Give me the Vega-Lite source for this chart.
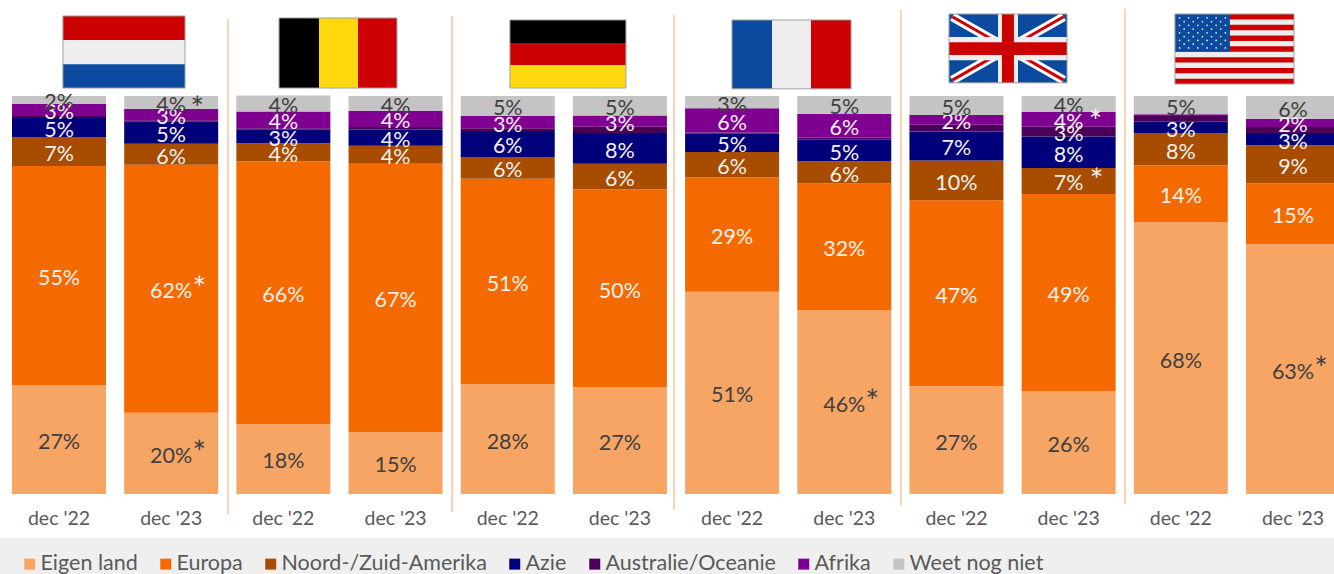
{"$schema":"https://vega.github.io/schema/vega-lite/v6.json","width":1334,"height":574,"padding":0,"autosize":"none","background":"#FFFFFF","config":{"view":{"stroke":null}},
"datasets":{
"band":[{"x0":0,"x1":12,"y0":-20.1,"y1":-11.06}],
"seps":[{"x":2.032,"y0":-5.0,"y1":119.3},{"x":4.029,"y0":-4.5,"y1":120.1},{"x":6.007,"y0":-4.0,"y1":120.4},{"x":8.03,"y0":-2.8,"y1":121.6},{"x":10.027,"y0":-2.5,"y1":121.9}],
"flags":[
{"x0":0.561,"x1":1.649,"y0":114.1,"y1":120.1,"c":"rood"},{"x0":0.561,"x1":1.649,"y0":108,"y1":114.1,"c":"wit"},{"x0":0.561,"x1":1.649,"y0":102,"y1":108,"c":"blauw"},
{"x0":2.487,"x1":2.843,"y0":102,"y1":119.6,"c":"zwart"},{"x0":2.843,"x1":3.191,"y0":102,"y1":119.6,"c":"geel"},{"x0":3.191,"x1":3.538,"y0":102,"y1":119.6,"c":"rood"},
{"x0":4.545,"x1":5.579,"y0":113.3,"y1":119.1,"c":"zwart"},{"x0":4.545,"x1":5.579,"y0":107.8,"y1":113.3,"c":"rood"},{"x0":4.545,"x1":5.579,"y0":102,"y1":107.8,"c":"geel"},
{"x0":6.524,"x1":6.881,"y0":101.8,"y1":119.1,"c":"blauw"},{"x0":6.881,"x1":7.228,"y0":101.8,"y1":119.1,"c":"wit"},{"x0":7.228,"x1":7.585,"y0":101.8,"y1":119.1,"c":"rood"},
{"x0":8.458,"x1":9.51,"y0":103.3,"y1":120.6,"c":"blauw"},
{"x0":10.472,"x1":11.533,"y0":103,"y1":120.6,"c":"wit"},
{"x0":10.472,"x1":11.533,"y0":119.25,"y1":120.6,"c":"rood"},{"x0":10.472,"x1":11.533,"y0":116.54,"y1":117.89,"c":"rood"},{"x0":10.472,"x1":11.533,"y0":113.83,"y1":115.18,"c":"rood"},{"x0":10.472,"x1":11.533,"y0":111.12,"y1":112.47,"c":"rood"},{"x0":10.472,"x1":11.533,"y0":108.41,"y1":109.76,"c":"rood"},{"x0":10.472,"x1":11.533,"y0":105.7,"y1":107.05,"c":"rood"},{"x0":10.472,"x1":11.533,"y0":103,"y1":104.35,"c":"rood"},
{"x0":10.472,"x1":10.962,"y0":111.13,"y1":120.6,"c":"blauw"}],
"diag":[{"x0":8.488,"x1":9.48,"y0":119.9,"y1":104.0},{"x0":8.488,"x1":9.48,"y0":104.0,"y1":119.9}],
"cross":[{"x0":8.895,"x1":9.073,"y0":103.3,"y1":120.6,"c":"wit"},{"x0":8.458,"x1":9.51,"y0":109,"y1":114.8,"c":"wit"},{"x0":8.93,"x1":9.037,"y0":103.3,"y1":120.6,"c":"rood"},{"x0":8.458,"x1":9.51,"y0":110.3,"y1":113.5,"c":"rood"}],
"frames":[{"x0":0.561,"x1":1.649,"y0":102,"y1":120.1},{"x0":2.487,"x1":3.538,"y0":102,"y1":119.6},{"x0":4.545,"x1":5.579,"y0":102,"y1":119.1},{"x0":6.524,"x1":7.585,"y0":101.8,"y1":119.1},{"x0":8.458,"x1":9.51,"y0":103.3,"y1":120.6},{"x0":10.472,"x1":11.533,"y0":103,"y1":120.6}],
"stars":[
{"x":10.513,"y":119.65},{"x":10.594,"y":119.65},{"x":10.676,"y":119.65},{"x":10.758,"y":119.65},{"x":10.839,"y":119.65},{"x":10.921,"y":119.65},
{"x":10.554,"y":118.71},{"x":10.635,"y":118.71},{"x":10.717,"y":118.71},{"x":10.798,"y":118.71},{"x":10.88,"y":118.71},
{"x":10.513,"y":117.76},{"x":10.594,"y":117.76},{"x":10.676,"y":117.76},{"x":10.758,"y":117.76},{"x":10.839,"y":117.76},{"x":10.921,"y":117.76},
{"x":10.554,"y":116.81},{"x":10.635,"y":116.81},{"x":10.717,"y":116.81},{"x":10.798,"y":116.81},{"x":10.88,"y":116.81},
{"x":10.513,"y":115.87},{"x":10.594,"y":115.87},{"x":10.676,"y":115.87},{"x":10.758,"y":115.87},{"x":10.839,"y":115.87},{"x":10.921,"y":115.87},
{"x":10.554,"y":114.92},{"x":10.635,"y":114.92},{"x":10.717,"y":114.92},{"x":10.798,"y":114.92},{"x":10.88,"y":114.92},
{"x":10.513,"y":113.97},{"x":10.594,"y":113.97},{"x":10.676,"y":113.97},{"x":10.758,"y":113.97},{"x":10.839,"y":113.97},{"x":10.921,"y":113.97},
{"x":10.554,"y":113.02},{"x":10.635,"y":113.02},{"x":10.717,"y":113.02},{"x":10.798,"y":113.02},{"x":10.88,"y":113.02},
{"x":10.513,"y":112.08},{"x":10.594,"y":112.08},{"x":10.676,"y":112.08},{"x":10.758,"y":112.08},{"x":10.839,"y":112.08},{"x":10.921,"y":112.08}],
"bars":[
{"bar":"NL 22","period":"dec '22","segment":"Eigen land","order":1,"value":27.4,"label":"27%"},
{"bar":"NL 22","period":"dec '22","segment":"Europa","order":2,"value":55,"label":"55%"},
{"bar":"NL 22","period":"dec '22","segment":"Noord-/Zuid-Amerika","order":3,"value":7.3,"label":"7%"},
{"bar":"NL 22","period":"dec '22","segment":"Azie","order":4,"value":4.8,"label":"5%"},
{"bar":"NL 22","period":"dec '22","segment":"Australie/Oceanie","order":5,"value":0.5},
{"bar":"NL 22","period":"dec '22","segment":"Afrika","order":6,"value":3,"label":"3%"},
{"bar":"NL 22","period":"dec '22","segment":"Weet nog niet","order":7,"value":2,"label":"2%"},
{"bar":"NL 23","period":"dec '23","segment":"Eigen land","order":1,"value":20.4,"label":"20%","star":true},
{"bar":"NL 23","period":"dec '23","segment":"Europa","order":2,"value":62.3,"label":"62%","star":true},
{"bar":"NL 23","period":"dec '23","segment":"Noord-/Zuid-Amerika","order":3,"value":5.3,"label":"6%"},
{"bar":"NL 23","period":"dec '23","segment":"Azie","order":4,"value":5.5,"label":"5%"},
{"bar":"NL 23","period":"dec '23","segment":"Australie/Oceanie","order":5,"value":0.4},
{"bar":"NL 23","period":"dec '23","segment":"Afrika","order":6,"value":2.9,"label":"3%"},
{"bar":"NL 23","period":"dec '23","segment":"Weet nog niet","order":7,"value":3.2,"label":"4%","star":true},
{"bar":"BE 22","period":"dec '22","segment":"Eigen land","order":1,"value":17.6,"label":"18%"},
{"bar":"BE 22","period":"dec '22","segment":"Europa","order":2,"value":66,"label":"66%"},
{"bar":"BE 22","period":"dec '22","segment":"Noord-/Zuid-Amerika","order":3,"value":4.5,"label":"4%"},
{"bar":"BE 22","period":"dec '22","segment":"Azie","order":4,"value":3.4,"label":"3%"},
{"bar":"BE 22","period":"dec '22","segment":"Australie/Oceanie","order":5,"value":0.4},
{"bar":"BE 22","period":"dec '22","segment":"Afrika","order":6,"value":4.2,"label":"4%"},
{"bar":"BE 22","period":"dec '22","segment":"Weet nog niet","order":7,"value":4,"label":"4%"},
{"bar":"BE 23","period":"dec '23","segment":"Eigen land","order":1,"value":15.6,"label":"15%"},
{"bar":"BE 23","period":"dec '23","segment":"Europa","order":2,"value":67.4,"label":"67%"},
{"bar":"BE 23","period":"dec '23","segment":"Noord-/Zuid-Amerika","order":3,"value":4.5,"label":"4%"},
{"bar":"BE 23","period":"dec '23","segment":"Azie","order":4,"value":4.1,"label":"4%"},
{"bar":"BE 23","period":"dec '23","segment":"Australie/Oceanie","order":5,"value":0.6},
{"bar":"BE 23","period":"dec '23","segment":"Afrika","order":6,"value":4.1,"label":"4%"},
{"bar":"BE 23","period":"dec '23","segment":"Weet nog niet","order":7,"value":3.7,"label":"4%"},
{"bar":"DE 22","period":"dec '22","segment":"Eigen land","order":1,"value":27.6,"label":"28%"},
{"bar":"DE 22","period":"dec '22","segment":"Europa","order":2,"value":51.6,"label":"51%"},
{"bar":"DE 22","period":"dec '22","segment":"Noord-/Zuid-Amerika","order":3,"value":5.5,"label":"6%"},
{"bar":"DE 22","period":"dec '22","segment":"Azie","order":4,"value":6.5,"label":"6%"},
{"bar":"DE 22","period":"dec '22","segment":"Australie/Oceanie","order":5,"value":0.7},
{"bar":"DE 22","period":"dec '22","segment":"Afrika","order":6,"value":3.1,"label":"3%"},
{"bar":"DE 22","period":"dec '22","segment":"Weet nog niet","order":7,"value":5,"label":"5%"},
{"bar":"DE 23","period":"dec '23","segment":"Eigen land","order":1,"value":26.9,"label":"27%"},
{"bar":"DE 23","period":"dec '23","segment":"Europa","order":2,"value":49.7,"label":"50%"},
{"bar":"DE 23","period":"dec '23","segment":"Noord-/Zuid-Amerika","order":3,"value":6.4,"label":"6%"},
{"bar":"DE 23","period":"dec '23","segment":"Azie","order":4,"value":7.7,"label":"8%"},
{"bar":"DE 23","period":"dec '23","segment":"Australie/Oceanie","order":5,"value":1.6},
{"bar":"DE 23","period":"dec '23","segment":"Afrika","order":6,"value":2.8,"label":"3%"},
{"bar":"DE 23","period":"dec '23","segment":"Weet nog niet","order":7,"value":4.9,"label":"5%"},
{"bar":"FR 22","period":"dec '22","segment":"Eigen land","order":1,"value":50.8,"label":"51%"},
{"bar":"FR 22","period":"dec '22","segment":"Europa","order":2,"value":28.7,"label":"29%"},
{"bar":"FR 22","period":"dec '22","segment":"Noord-/Zuid-Amerika","order":3,"value":6.4,"label":"6%"},
{"bar":"FR 22","period":"dec '22","segment":"Azie","order":4,"value":4.6,"label":"5%"},
{"bar":"FR 22","period":"dec '22","segment":"Australie/Oceanie","order":5,"value":0.3},
{"bar":"FR 22","period":"dec '22","segment":"Afrika","order":6,"value":6.1,"label":"6%"},
{"bar":"FR 22","period":"dec '22","segment":"Weet nog niet","order":7,"value":3.1,"label":"3%"},
{"bar":"FR 23","period":"dec '23","segment":"Eigen land","order":1,"value":46.2,"label":"46%","star":true},
{"bar":"FR 23","period":"dec '23","segment":"Europa","order":2,"value":31.8,"label":"32%"},
{"bar":"FR 23","period":"dec '23","segment":"Noord-/Zuid-Amerika","order":3,"value":5.6,"label":"6%"},
{"bar":"FR 23","period":"dec '23","segment":"Azie","order":4,"value":5.4,"label":"5%"},
{"bar":"FR 23","period":"dec '23","segment":"Australie/Oceanie","order":5,"value":0.6},
{"bar":"FR 23","period":"dec '23","segment":"Afrika","order":6,"value":5.9,"label":"6%"},
{"bar":"FR 23","period":"dec '23","segment":"Weet nog niet","order":7,"value":4.5,"label":"5%"},
{"bar":"UK 22","period":"dec '22","segment":"Eigen land","order":1,"value":27.1,"label":"27%"},
{"bar":"UK 22","period":"dec '22","segment":"Europa","order":2,"value":46.7,"label":"47%"},
{"bar":"UK 22","period":"dec '22","segment":"Noord-/Zuid-Amerika","order":3,"value":10,"label":"10%"},
{"bar":"UK 22","period":"dec '22","segment":"Azie","order":4,"value":7.3,"label":"7%"},
{"bar":"UK 22","period":"dec '22","segment":"Australie/Oceanie","order":5,"value":1.7},
{"bar":"UK 22","period":"dec '22","segment":"Afrika","order":6,"value":2.4,"label":"2%"},
{"bar":"UK 22","period":"dec '22","segment":"Weet nog niet","order":7,"value":4.8,"label":"5%"},
{"bar":"UK 23","period":"dec '23","segment":"Eigen land","order":1,"value":25.9,"label":"26%"},
{"bar":"UK 23","period":"dec '23","segment":"Europa","order":2,"value":49.5,"label":"49%"},
{"bar":"UK 23","period":"dec '23","segment":"Noord-/Zuid-Amerika","order":3,"value":6.5,"label":"7%","star":true},
{"bar":"UK 23","period":"dec '23","segment":"Azie","order":4,"value":7.9,"label":"8%"},
{"bar":"UK 23","period":"dec '23","segment":"Australie/Oceanie","order":5,"value":2.5,"label":"3%"},
{"bar":"UK 23","period":"dec '23","segment":"Afrika","order":6,"value":3.7,"label":"4%","star":true},
{"bar":"UK 23","period":"dec '23","segment":"Weet nog niet","order":7,"value":4,"label":"4%"},
{"bar":"US 22","period":"dec '22","segment":"Eigen land","order":1,"value":68.3,"label":"68%"},
{"bar":"US 22","period":"dec '22","segment":"Europa","order":2,"value":14.3,"label":"14%"},
{"bar":"US 22","period":"dec '22","segment":"Noord-/Zuid-Amerika","order":3,"value":8.1,"label":"8%"},
{"bar":"US 22","period":"dec '22","segment":"Azie","order":4,"value":2.8,"label":"3%"},
{"bar":"US 22","period":"dec '22","segment":"Australie/Oceanie","order":5,"value":1.5},
{"bar":"US 22","period":"dec '22","segment":"Afrika","order":6,"value":0.4},
{"bar":"US 22","period":"dec '22","segment":"Weet nog niet","order":7,"value":4.6,"label":"5%"},
{"bar":"US 23","period":"dec '23","segment":"Eigen land","order":1,"value":62.8,"label":"63%","star":true},
{"bar":"US 23","period":"dec '23","segment":"Europa","order":2,"value":15.3,"label":"15%"},
{"bar":"US 23","period":"dec '23","segment":"Noord-/Zuid-Amerika","order":3,"value":9.5,"label":"9%"},
{"bar":"US 23","period":"dec '23","segment":"Azie","order":4,"value":3.1,"label":"3%"},
{"bar":"US 23","period":"dec '23","segment":"Australie/Oceanie","order":5,"value":1.5},
{"bar":"US 23","period":"dec '23","segment":"Afrika","order":6,"value":2.1,"label":"2%"},
{"bar":"US 23","period":"dec '23","segment":"Weet nog niet","order":7,"value":5.7,"label":"6%"}
]},
"layer":[
{"encoding":{
"x":{"field":"x0","type":"quantitative","axis":null,"scale":{"domain":[0,12],"range":[0,1346.4],"nice":false,"zero":false}},
"x2":{"field":"x1"},
"y":{"field":"y0","type":"quantitative","axis":null,"scale":{"domain":[-20.1,124.12],"nice":false,"zero":false}},
"y2":{"field":"y1"}},
"layer":[
{"data":{"name":"band"},"mark":{"type":"rect","color":"#EFEFEF"}},
{"data":{"name":"seps"},"mark":{"type":"rule","color":"#F9C9A0","strokeWidth":1.6},"encoding":{"x":{"field":"x","type":"quantitative"},"x2":null}},
{"data":{"name":"flags"},"mark":{"type":"rect"},"encoding":{"color":{"field":"c","type":"nominal","legend":null,"scale":{"domain":["rood","wit","blauw","zwart","geel"],"range":["#CC0000","#EEEEEE","#0B4A9E","#000000","#FFD80D"]}}}},
{"data":{"name":"diag"},"mark":{"type":"rule","color":"#FFFFFF","strokeWidth":9}},
{"data":{"name":"diag"},"mark":{"type":"rule","color":"#CC0000","strokeWidth":3}},
{"data":{"name":"cross"},"mark":{"type":"rect"},"encoding":{"color":{"field":"c","type":"nominal","legend":null,"scale":{"domain":["rood","wit","blauw","zwart","geel"],"range":["#CC0000","#EEEEEE","#0B4A9E","#000000","#FFD80D"]}}}},
{"data":{"name":"stars"},"mark":{"type":"point","shape":"circle","filled":true,"color":"#FFFFFF","size":3,"opacity":0.9},"encoding":{"x":{"field":"x","type":"quantitative"},"x2":null,"y":{"field":"y","type":"quantitative"},"y2":null}},
{"data":{"name":"frames"},"mark":{"type":"rect","fillOpacity":0,"stroke":"#A0A0A0","strokeWidth":1}}
]},
{"data":{"name":"bars"},
"transform":[{"stack":"value","groupby":["bar"],"sort":[{"field":"order","order":"ascending"}],"as":["v0","v1"]},{"calculate":"(datum.v0+datum.v1)/2","as":"mid"}],
"encoding":{"x":{"field":"bar","type":"nominal","axis":null,"scale":{"domain":["NL 22","NL 23","BE 22","BE 23","DE 22","DE 23","FR 22","FR 23","UK 22","UK 23","US 22","US 23"],"range":[0,1352],"paddingInner":0.162,"paddingOuter":0.107}}},
"layer":[
{"mark":{"type":"bar"},"encoding":{"y":{"field":"v0","type":"quantitative","axis":null,"scale":{"domain":[-20.1,124.12],"nice":false,"zero":false}},"y2":{"field":"v1"},
"color":{"field":"segment","type":"nominal","scale":{"domain":["Eigen land","Europa","Noord-/Zuid-Amerika","Azie","Australie/Oceanie","Afrika","Weet nog niet"],"range":["#F6A565","#F46A00","#A84C00","#00007A","#4A0058","#7F0090","#C4C4C4"]},
"legend":{"title":null,"orient":"none","legendX":19,"legendY":553,"padding":0,"direction":"horizontal","columns":7,"columnPadding":17,"symbolType":"square","symbolSize":121,"symbolStrokeWidth":0,"labelFont":"Lato","labelFontSize":21.5,"labelColor":"#595959","labelOffset":0,"labelLimit":400,"zindex":1}}}},
{"transform":[{"filter":"datum.label"}],"mark":{"type":"text","font":"Lato","fontSize":21.5,"baseline":"middle","dy":3.5},"encoding":{"text":{"field":"label"},"y":{"field":"mid","type":"quantitative"},"color":{"condition":{"test":"datum.segment==='Eigen land'||datum.segment==='Weet nog niet'","value":"#404040"},"value":"#F5F1EE"}}},
{"transform":[{"filter":"datum.star && datum.order<=3"}],"mark":{"type":"text","font":"Lato","fontSize":32,"baseline":"middle","text":"*","dx":28,"dy":1},"encoding":{"y":{"field":"mid","type":"quantitative"},"color":{"condition":{"test":"datum.segment==='Eigen land'","value":"#404040"},"value":"#F5F1EE"}}},
{"transform":[{"filter":"datum.star && datum.order===6"}],"mark":{"type":"text","font":"Lato","fontSize":32,"baseline":"middle","text":"*","dx":27,"dy":3.5,"color":"#F5F1EE"},"encoding":{"y":{"field":"mid","type":"quantitative"}}},
{"transform":[{"filter":"datum.star && datum.order===7"}],"mark":{"type":"text","font":"Lato","fontSize":32,"baseline":"middle","text":"*","dx":26,"dy":8,"color":"#404040"},"encoding":{"y":{"field":"mid","type":"quantitative"}}},
{"transform":[{"filter":"datum.order===1"}],"mark":{"type":"text","font":"Lato","fontSize":19.5,"color":"#595959","baseline":"middle"},"encoding":{"text":{"field":"period"},"y":{"datum":-6.2}}}
]}
],
"resolve":{"scale":{"x":"independent","color":"independent"}}}
